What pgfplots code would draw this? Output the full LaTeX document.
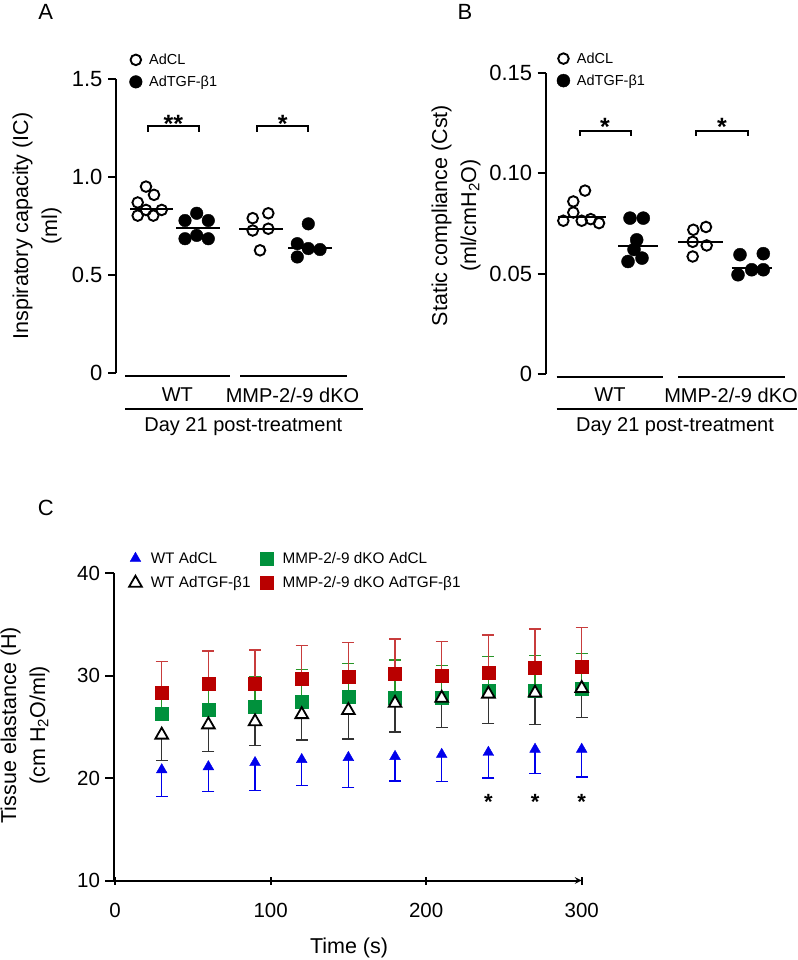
\documentclass[border=0pt]{standalone}
\usepackage{fontspec}
\setmainfont{Liberation Sans}
\usepackage{pgfplots}
\pgfplotsset{compat=1.18}
\usepackage{pgfplotstable}

\definecolor{cblue}{RGB}{0,0,235}
\definecolor{cgreen}{RGB}{0,145,60}
\definecolor{cred}{RGB}{185,0,0}
\definecolor{cgreenbar}{RGB}{40,150,40}
\definecolor{credbar}{RGB}{200,60,60}

\pgfplotstableread{
x    b     be    k     ke    g     ge    r     re
30   20.8  2.6   24.2  2.5   26.25 2.65  28.3  3.05
60   21.1  2.4   25.2  2.6   26.7  2.75  29.2  3.2
90   21.5  2.7   25.5  2.35  27.0  2.9   29.2  3.3
120  21.8  2.55  26.2  2.5   27.45 3.15  29.7  3.2
150  22.0  2.9   26.6  2.8   27.9  3.3   29.9  3.3
180  22.1  2.4   27.3  2.8   27.8  3.7   30.15 3.4
210  22.3  2.65  27.8  2.9   27.8  3.15  29.95 3.4
240  22.5  2.5   28.2  2.9   28.5  3.35  30.3  3.65
270  22.8  2.35  28.3  3.1   28.5  3.45  30.8  3.75
300  22.8  2.7   28.75 2.85  28.75 3.4   30.85 3.8
}\elast

\pgfplotsset{
  prism/.style={
    scale only axis, clip=false,
    axis y line=left,
    axis line style={-, line width=2pt, black},
    tick align=outside, major tick length=8pt,
    tick style={line width=2pt, black},
    /pgf/number format/assume math mode=true,
    tick label style={font=\fontsize{22}{24}\selectfont},
    yticklabel style={xshift=-2pt},
    label style={font=\fontsize{21.5}{29}\selectfont, align=center},
    legend cell align=left,
  },
}

\begin{document}
\begin{tikzpicture}
\useasboundingbox (0pt,0pt) rectangle (797pt,-960pt);

% ---------------- Panel A ----------------
\begin{axis}[prism,
  at={(116pt,-373pt)}, anchor=south west,
  width=247pt, height=294pt,
  xmin=116, xmax=363, ymin=0, ymax=1.5,
  axis x line=none,
  ytick={0,0.5,1,1.5}, yticklabels={0,0.5,1.0,1.5},
  ylabel={Inspiratory capacity (IC)\\(ml)},
  ylabel style={at={(axis description cs:-0.32,0.5)}, anchor=center},
  legend image code/.code={\draw[mark repeat=2,mark phase=2,#1] plot coordinates {(-6pt,0pt)(0pt,0pt)(6pt,0pt)};},
  legend style={at={(axis description cs:0.054,1.093)}, anchor=north west, draw=none, fill=none,
    font=\fontsize{14.5}{16}\selectfont, row sep=6pt, inner sep=0pt, column sep=5pt},
]
\addlegendimage{only marks, mark=o, mark size=5.3pt, black, mark options={line width=1.9pt}}
\addlegendentry{AdCL}
\addlegendimage{only marks, mark=*, mark size=6.3pt, black}
\addlegendentry{AdTGF-β1}
% WT AdCL
\addplot[forget plot, only marks, mark=o, mark size=5.3pt, black, mark options={line width=1.9pt}] coordinates {
 (146,0.951) (154,0.909) (137.7,0.870) (146,0.832) (161.7,0.832) (137.7,0.803) (153.3,0.803)};
\addplot[forget plot, black, line width=2pt] coordinates {(130,0.837) (172.7,0.837)};
% WT AdTGF
\addplot[forget plot, only marks, mark=*, mark size=6.3pt, black] coordinates {
 (196.7,0.815) (185,0.778) (208.3,0.778) (185,0.685) (196.7,0.702) (208.3,0.685)};
\addplot[forget plot, black, line width=2pt] coordinates {(176,0.741) (220,0.741)};
% dKO AdCL
\addplot[forget plot, only marks, mark=o, mark size=5.3pt, black, mark options={line width=1.9pt}] coordinates {
 (252.7,0.790) (268.3,0.815) (252.7,0.727) (268.3,0.736) (260,0.626)};
\addplot[forget plot, black, line width=2pt] coordinates {(239,0.737) (282.7,0.737)};
% dKO AdTGF
\addplot[forget plot, only marks, mark=*, mark size=6.3pt, black] coordinates {
 (308.3,0.761) (297.3,0.660) (308.3,0.635) (320,0.630) (297.3,0.592)};
\addplot[forget plot, black, line width=2pt] coordinates {(288,0.640) (331.7,0.640)};
\end{axis}

% ---------------- Panel B ----------------
\begin{axis}[prism,
  at={(545.7pt,-374pt)}, anchor=south west,
  width=251.3pt, height=301.3pt,
  xmin=545.7, xmax=797, ymin=0, ymax=0.15,
  axis x line=none,
  ytick={0,0.05,0.1,0.15}, yticklabels={0,0.05,0.10,0.15},
  ylabel={Static compliance (Cst)\\(ml/cmH\textsubscript{2}O)},
  ylabel style={at={(axis description cs:-0.357,0.526)}, anchor=center},
  legend image code/.code={\draw[mark repeat=2,mark phase=2,#1] plot coordinates {(-6pt,0pt)(0pt,0pt)(6pt,0pt)};},
  legend style={at={(axis description cs:0.044,1.074)}, anchor=north west, draw=none, fill=none,
    font=\fontsize{14.5}{16}\selectfont, row sep=6pt, inner sep=0pt, column sep=5pt},
]
\addlegendimage{only marks, mark=o, mark size=5.3pt, black, mark options={line width=1.9pt}}
\addlegendentry{AdCL}
\addlegendimage{only marks, mark=*, mark size=6.5pt, black}
\addlegendentry{AdTGF-β1}
\addplot[forget plot, only marks, mark=o, mark size=5.3pt, black, mark options={line width=1.9pt}] coordinates {
 (585,0.0913) (573.3,0.0859) (573.3,0.0804) (563.3,0.0763) (581.7,0.0763) (590.7,0.0771) (599,0.0751)};
\addplot[forget plot, black, line width=2pt] coordinates {(558,0.0781) (606,0.0781)};
\addplot[forget plot, only marks, mark=*, mark size=6.5pt, black] coordinates {
 (630,0.0776) (643.3,0.0776) (636.7,0.0668) (634,0.0620) (628,0.0560) (642,0.0577)};
\addplot[forget plot, black, line width=2pt] coordinates {(618.3,0.0638) (658.3,0.0638)};
\addplot[forget plot, only marks, mark=o, mark size=5.3pt, black, mark options={line width=1.9pt}] coordinates {
 (693.3,0.0718) (706,0.0732) (692.7,0.0658) (706.7,0.0640) (692.7,0.0585)};
\addplot[forget plot, black, line width=2pt] coordinates {(678,0.0657) (723,0.0657)};
\addplot[forget plot, only marks, mark=*, mark size=6.5pt, black] coordinates {
 (740,0.0594) (763.3,0.0599) (738,0.0494) (751.7,0.0519) (763.3,0.0519)};
\addplot[forget plot, black, line width=2pt] coordinates {(731.7,0.0527) (771.7,0.0527)};
\end{axis}

% ---------------- Panel C ----------------
\begin{axis}[prism,
  at={(113.5pt,-880.5pt)}, anchor=south west,
  width=468.2pt, height=307.5pt,
  xmin=-1, xmax=300, ymin=10, ymax=40,
  axis x line=bottom,
  xtick={0,100,200,300}, ytick={10,20,30,40},
  tick label style={font=\fontsize{20.5}{24}\selectfont},
  xticklabel style={yshift=-15pt},
  xlabel={Time (s)},
  xlabel style={at={(axis description cs:0.503,-0.2195)}, anchor=center},
  ylabel={Tissue elastance (H)\\(cm H\textsubscript{2}O/ml)},
  ylabel style={at={(axis description cs:-0.189,0.505)}, anchor=center},
  legend columns=2, transpose legend,
  legend image code/.code={\draw[mark repeat=2,mark phase=2,#1] plot coordinates {(-7pt,0pt)(0pt,0pt)(7pt,0pt)};},
  legend style={at={(axis description cs:0.033,1.075)}, anchor=north west, draw=none, fill=none,
    font=\fontsize{15.3}{17}\selectfont, row sep=8pt, inner sep=0pt, column sep=7pt,
    /tikz/every even column/.append style={column sep=8pt}},
]
\addlegendimage{only marks, mark=triangle*, mark size=6.2pt, cblue}
\addlegendentry{WT AdCL}
\addlegendimage{only marks, mark=triangle*, mark size=7.3pt, black, mark options={fill=white, line width=1.8pt}}
\addlegendentry{WT AdTGF-β1}
\addlegendimage{only marks, mark=square*, mark size=6.5pt, cgreen}
\addlegendentry{MMP-2/-9 dKO AdCL}
\addlegendimage{only marks, mark=square*, mark size=6.5pt, cred}
\addlegendentry{MMP-2/-9 dKO AdTGF-β1}

% WT AdCL (blue)
\addplot[forget plot, only marks, mark=triangle*, mark size=6.2pt, cblue,
  error bars/.cd, y dir=minus, y explicit,
  error bar style={line width=1.3pt, cblue},
  error mark options={rotate=90, cblue, line width=1.3pt, mark size=6pt}]
  table[x=x, y=b, y error=be] {\elast};
% dKO AdCL (green)
\addplot[forget plot, only marks, mark=square*, mark size=6.5pt, cgreen,
  error bars/.cd, y dir=plus, y explicit,
  error bar style={line width=1.3pt, cgreenbar},
  error mark options={rotate=90, cgreenbar, line width=1.3pt, mark size=6pt}]
  table[x=x, y=g, y error=ge] {\elast};
% dKO AdTGF (red)
\addplot[forget plot, only marks, mark=square*, mark size=6.5pt, cred,
  error bars/.cd, y dir=plus, y explicit,
  error bar style={line width=1.3pt, credbar},
  error mark options={rotate=90, credbar, line width=1.3pt, mark size=6pt}]
  table[x=x, y=r, y error=re] {\elast};
% WT AdTGF (black open)
\addplot[forget plot, only marks, mark=triangle*, mark size=7.3pt, black,
  mark options={fill=white, line width=1.8pt},
  error bars/.cd, y dir=minus, y explicit,
  error bar style={line width=1.3pt, black!80},
  error mark options={rotate=90, black!80, line width=1.3pt, mark size=6pt}]
  table[x=x, y=k, y error=ke] {\elast};

\node[font=\fontsize{22}{24}\selectfont\bfseries, anchor=base] at (axis cs:240,16.9) {*};
\node[font=\fontsize{22}{24}\selectfont\bfseries, anchor=base] at (axis cs:270,16.9) {*};
\node[font=\fontsize{22}{24}\selectfont\bfseries, anchor=base] at (axis cs:300,16.9) {*};
\end{axis}

% ---------------- Annotations ----------------
\begin{scope}[x=1pt, y=-1pt]
  \node[font=\fontsize{22}{24}\selectfont] at (45.8,12) {A};
  \node[font=\fontsize{22}{24}\selectfont] at (465,12) {B};
  \node[font=\fontsize{22}{24}\selectfont] at (45.9,508) {C};

  % A grouping
  \draw[line width=2pt] (125,376) -- (230,376);
  \draw[line width=2pt] (240,376) -- (346.7,376);
  \draw[line width=2pt] (125,409.3) -- (363.3,409.3);
  \node[font=\fontsize{20}{22}\selectfont] at (177.3,395) {WT};
  \node[font=\fontsize{20}{22}\selectfont] at (292.5,395) {MMP-2/-9 dKO};
  \node[font=\fontsize{20}{22}\selectfont] at (243.3,426.7) {Day 21 post-treatment};
  % A brackets
  \draw[line width=2pt] (147.7,131.7) -- (147.7,125.7) -- (199,125.7) -- (199,131.7);
  \draw[line width=2pt] (257,131.7) -- (257,125.7) -- (308,125.7) -- (308,131.7);
  \node[font=\fontsize{25}{26}\selectfont\bfseries, anchor=base] at (173.3,132.5) {**};
  \node[font=\fontsize{25}{26}\selectfont\bfseries, anchor=base] at (282.7,132.5) {*};

  % B grouping
  \draw[line width=2pt] (556.7,376.7) -- (663.3,376.7);
  \draw[line width=2pt] (678.3,376.7) -- (785,376.7);
  \draw[line width=2pt] (556.7,409.3) -- (797,409.3);
  \node[font=\fontsize{20}{22}\selectfont] at (610,395) {WT};
  \node[font=\fontsize{20}{22}\selectfont] at (731,395) {MMP-2/-9 dKO};
  \node[font=\fontsize{20}{22}\selectfont] at (675,426.7) {Day 21 post-treatment};
  % B brackets
  \draw[line width=2pt] (580,136) -- (580,131) -- (631,131) -- (631,136);
  \draw[line width=2pt] (696,136) -- (696,131) -- (747.7,131) -- (747.7,136);
  \node[font=\fontsize{25}{26}\selectfont\bfseries, anchor=base] at (605,136) {*};
  \node[font=\fontsize{25}{26}\selectfont\bfseries, anchor=base] at (722,136) {*};
\end{scope}
\end{tikzpicture}
\end{document}
